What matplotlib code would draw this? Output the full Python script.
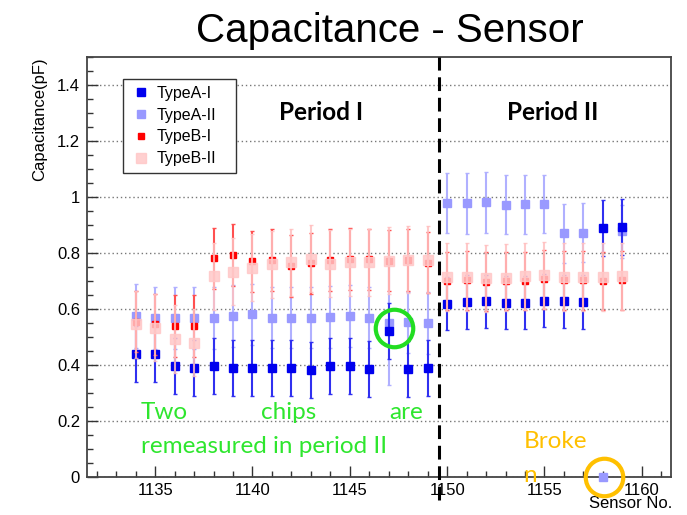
import matplotlib
matplotlib.use("Agg")
import matplotlib.pyplot as plt
from matplotlib.ticker import MultipleLocator, FuncFormatter

# sensor numbers: 1134-1149 measured in period I, 1150-1159 in period II
sensors = [1134, 1135, 1136, 1137, 1138, 1139, 1140, 1141, 1142, 1143, 1144, 1145, 1146, 1147, 1148, 1149,
           1150, 1151, 1152, 1153, 1154, 1155, 1156, 1157, 1158, 1159]

# capacitance (pF) and errors
typeA_I = [0.440, 0.440, 0.395, 0.390, 0.395, 0.390, 0.388, 0.388, 0.388, 0.383, 0.398, 0.395, 0.386, 0.521, 0.386, 0.390,
           0.619, 0.625, 0.627, 0.623, 0.623, 0.630, 0.627, 0.625, 0.889, 0.892]
typeA_I_err = [0.10] * 16 + [0.095] * 8 + [0.10, 0.10]

typeA_II = [0.576, 0.567, 0.567, 0.567, 0.567, 0.574, 0.581, 0.569, 0.569, 0.569, 0.571, 0.574, 0.569, 0.550, 0.552, 0.550,
            0.979, 0.977, 0.981, 0.973, 0.974, 0.975, 0.870, 0.873, 0.0, 0.877]
typeA_II_err = [0.115, 0.11, 0.11, 0.11, 0.11, 0.11, 0.11, 0.11, 0.11, 0.11, 0.11, 0.11, 0.11, 0.22, 0.11, 0.11,
                0.108, 0.108, 0.108, 0.105, 0.105, 0.105, 0.105, 0.105, 0.0, 0.095]

typeB_I = [0.555, 0.545, 0.540, 0.540, 0.781, 0.792, 0.770, 0.774, 0.754, 0.763, 0.776, 0.779, 0.777, 0.773, 0.775, 0.766,
           0.700, 0.702, 0.698, 0.700, 0.700, 0.706, 0.702, 0.702, 0.700, 0.702]
typeB_I_err = [0.11] * 16 + [0.105] * 10

typeB_II = [0.545, 0.533, 0.493, 0.479, 0.717, 0.733, 0.748, 0.760, 0.767, 0.779, 0.762, 0.767, 0.767, 0.773, 0.776, 0.776,
            0.714, 0.714, 0.710, 0.712, 0.717, 0.720, 0.714, 0.714, 0.714, 0.717]
typeB_II_err = [0.12] * 26

period_split = 1149.6
remeasured = (1147.26, 0.532)   # green ring
broken = (1158.08, 0.0)         # orange ring

fig = plt.figure(figsize=(6.87, 5.15), dpi=100)
ax = fig.add_axes([87 / 687, 1 - 477 / 515, 584 / 687, 420 / 515])

ax.yaxis.grid(True, linestyle=(0, (1, 2)), color="#777777", linewidth=1)
ax.set_axisbelow(True)

common = dict(fmt="s", capsize=1.5, elinewidth=1.5, capthick=1, linestyle="none")
ax.errorbar(sensors, typeA_II, yerr=typeA_II_err, color="#9999ff", ecolor="#b0b0ff",
            markersize=6, label="TypeA-II", clip_on=False, zorder=3, **common)
ax.errorbar(sensors, typeA_I, yerr=typeA_I_err, color="#0000ee", ecolor="#3030f0",
            markersize=5.5, label="TypeA-I", zorder=4, **common)
ax.errorbar(sensors, typeB_I, yerr=typeB_I_err, color="#ff0000", ecolor="#ff5050",
            markersize=5, label="TypeB-I", zorder=5, **common)
ax.errorbar(sensors, typeB_II, yerr=typeB_II_err, color="#ffc8c8", ecolor="#ffc0c0", alpha=0.85,
            markersize=6.5, label="TypeB-II", zorder=6, **common)

ax.axvline(period_split, ymin=-0.055, ymax=1.0, color="black", linewidth=2.2,
           linestyle=(0, (4.5, 2.2)), clip_on=False, zorder=7)

ax.plot(*remeasured, "o", markersize=27, markerfacecolor="none", markeredgecolor="#22dd22",
        markeredgewidth=3, zorder=8)
ax.plot(*broken, "o", markersize=27, markerfacecolor="none", markeredgecolor="#ffc000",
        markeredgewidth=3, clip_on=False, zorder=8)

ax.set_xlim(1131.5, 1161.5)
ax.set_ylim(0, 1.5)
ax.xaxis.set_major_locator(MultipleLocator(5))
ax.xaxis.set_minor_locator(MultipleLocator(1))
ax.yaxis.set_major_locator(MultipleLocator(0.2))
ax.yaxis.set_minor_locator(MultipleLocator(0.05))
ax.yaxis.set_major_formatter(FuncFormatter(lambda v, p: "%g" % round(v, 2)))
ax.tick_params(which="both", direction="in", top=False, right=False, colors="#333333",
               labelcolor="black", labelsize=12, width=1)
ax.tick_params(which="major", length=8, pad=5)
ax.tick_params(axis="x", which="major", pad=4)
ax.tick_params(which="minor", length=4)
for lab in ax.get_xticklabels() + ax.get_yticklabels():
    lab.set_fontfamily("Liberation Sans")
for s in ax.spines.values():
    s.set_color("#444444")
    s.set_linewidth(1.3)

ax.set_ylabel("Capacitance(pF)", fontsize=12, family="Liberation Sans", loc="top")
ax.yaxis.set_label_coords(-0.068, 1.0)
ax.set_xlabel("Sensor No.", fontsize=12, family="Liberation Sans", loc="right")
ax.xaxis.set_label_coords(1.002, -0.046)

fig.text(0.567, 1 - 42 / 515, "Capacitance - Sensor", ha="center", va="baseline",
         fontsize=29, family="Liberation Sans")

ax.text(1143.5, 1.30, "Period I", ha="center", va="center", fontsize=17.5, fontweight="bold", family="Lato")
ax.text(1155.4, 1.30, "Period II", ha="center", va="center", fontsize=17.5, fontweight="bold", family="Lato")

green = "#2ee62e"
for xs, word in [(1134.28, "Two"), (1140.42, "chips"), (1147.02, "are")]:
    ax.text(xs, 0.206, word, color=green, fontsize=17.5, family="Lato", va="baseline")
ax.text(1134.28, 0.085, "remeasured in period II", color=green, fontsize=17.5, family="Lato", va="baseline")

orange = "#ffc000"
ax.text(1153.92, 0.1025, "Broke", color=orange, fontsize=17.5, family="Lato", va="baseline")
ax.text(1153.92, -0.019, "n", color=orange, fontsize=17.5, family="Lato", va="baseline", clip_on=False)

handles, labels = ax.get_legend_handles_labels()
order = [1, 0, 2, 3]
leg = ax.legend([handles[i][0] for i in order], [labels[i] for i in order],
                loc="upper left", bbox_to_anchor=(0.0616, 0.75, 0.1935, 0.198), mode="expand",
                borderaxespad=0, prop={"family": "Liberation Sans", "size": 11.5},
                handlelength=1.4, handletextpad=0.25, labelspacing=0.42, borderpad=0.45,
                fancybox=False, framealpha=1, edgecolor="#333333")
leg.get_frame().set_linewidth(1.0)
leg.set_zorder(10)

fig.savefig("out.png", dpi=100)
